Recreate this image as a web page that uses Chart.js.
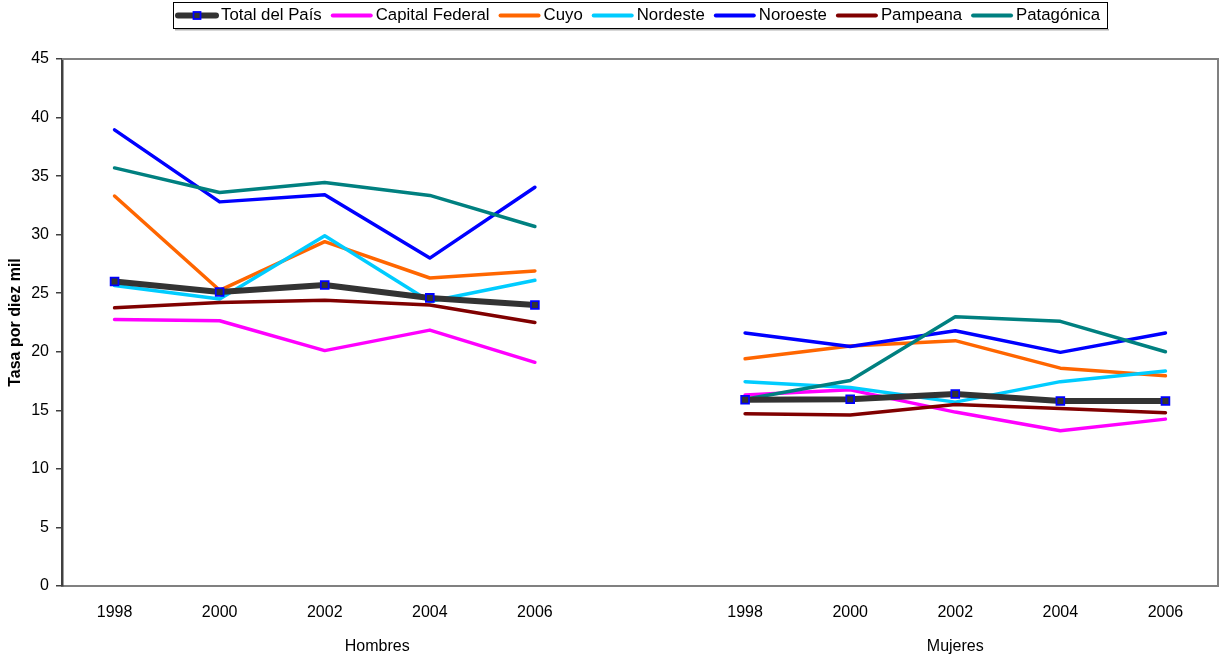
<!DOCTYPE html>
<html><head><meta charset="utf-8">
<script src="https://cdn.jsdelivr.net/npm/chart.js@4"></script>
<style>html,body{margin:0;padding:0;background:#fff}#wrap{width:1221px;height:657px}</style>
</head><body><div id="wrap"><canvas id="c" width="1221" height="657"></canvas></div>
<script>
const categories = ['1998','2000','2002','2004','2006','','1998','2000','2002','2004','2006'];
const groupLabels = ['Hombres','Mujeres'];
const groupCenters = [2.5, 8];
const seriesNames = ['Total del País','Capital Federal','Cuyo','Nordeste','Noroeste','Pampeana','Patagónica'];
const totalPais      = [26.0, 25.1, 25.7, 24.6, 24.0, null, 15.9, 15.95, 16.4, 15.8, 15.8];
const capitalFederal = [22.75, 22.65, 20.1, 21.85, 19.1, null, 16.3, 16.75, 14.85, 13.25, 14.25];
const cuyo           = [33.3, 25.25, 29.4, 26.3, 26.9, null, 19.4, 20.5, 20.95, 18.6, 17.95];
const nordeste       = [25.65, 24.5, 29.9, 24.3, 26.1, null, 17.45, 16.95, 15.7, 17.45, 18.35];
const noroeste       = [38.95, 32.8, 33.4, 28.0, 34.05, null, 21.6, 20.45, 21.8, 19.95, 21.6];
const pampeana       = [23.75, 24.2, 24.4, 24.0, 22.5, null, 14.7, 14.6, 15.5, 15.15, 14.8];
const patagonica     = [35.7, 33.6, 34.45, 33.35, 30.7, null, 15.95, 17.55, 23.0, 22.6, 20.0];
const seriesValues = [totalPais, capitalFederal, cuyo, nordeste, noroeste, pampeana, patagonica];
const seriesColors = ['#333333','#FF00FF','#FF6600','#00CCFF','#0000FF','#800000','#008080'];

const FONT = '"Liberation Sans", Arial, sans-serif';

const datasets = seriesNames.map((name, i) => ({
  label: name,
  data: seriesValues[i],
  borderColor: seriesColors[i],
  backgroundColor: seriesColors[i],
  borderWidth: i === 0 ? 6 : 3.5,
  borderCapStyle: 'round',
  borderJoinStyle: 'round',
  pointStyle: 'rect',
  pointRadius: i === 0 ? 5.5 : 0,
  pointHoverRadius: i === 0 ? 5.5 : 0,
  pointBorderColor: '#0000FF',
  pointBackgroundColor: '#333333',
  pointBorderWidth: 1.8,
  spanGaps: false,
  tension: 0,
  fill: false,
  order: i === 0 ? -1 : (seriesNames.length - i)
}));

const framePlugin = {
  id: 'frame',
  beforeDatasetsDraw(chart) {
    const {ctx, chartArea: a} = chart;
    ctx.save();
    ctx.strokeStyle = '#808080';
    ctx.lineWidth = 2;
    ctx.beginPath();
    ctx.moveTo(a.left, a.top);
    ctx.lineTo(a.right, a.top);
    ctx.lineTo(a.right, a.bottom);
    ctx.stroke();
    ctx.restore();
  }
};

const legendPlugin = {
  id: 'boxLegend',
  afterDraw(chart) {
    const ctx = chart.ctx, a = chart.chartArea;
    const ds = chart.data.datasets;
    ctx.save();
    ctx.font = '16.8px ' + FONT;
    const sample = 42, gapT = 3, gapN = 9, padL = 3, padR = 7;
    let w = padL + padR;
    ds.forEach((d, i) => { w += sample + gapT + ctx.measureText(d.label).width + (i < ds.length - 1 ? gapN : 0); });
    const cx = (a.left + a.right) / 2;
    let x = Math.round(cx - w / 2);
    const top = 2, h = 26, my = top + h / 2 + 0.5;
    ctx.fillStyle = '#b0b0b0';
    ctx.fillRect(x + 2, top + h + 1, Math.round(w), 1.5);
    ctx.strokeStyle = '#000';
    ctx.lineWidth = 1;
    ctx.strokeRect(x + 0.5, top + 0.5, Math.round(w), h);
    x += padL;
    ds.forEach(d => {
      ctx.strokeStyle = d.borderColor;
      ctx.lineWidth = d.pointRadius > 0 ? 6 : 4;
      ctx.lineCap = 'round';
      ctx.beginPath();
      ctx.moveTo(x + 2, my);
      ctx.lineTo(x + sample - 2, my);
      ctx.stroke();
      if (d.pointRadius > 0) {
        const s = 7;
        ctx.fillStyle = d.pointBackgroundColor;
        ctx.fillRect(x + sample / 2 - s / 2, my - s / 2, s, s);
        ctx.strokeStyle = d.pointBorderColor;
        ctx.lineWidth = 1.8;
        ctx.strokeRect(x + sample / 2 - s / 2, my - s / 2, s, s);
      }
      ctx.fillStyle = '#000';
      ctx.textAlign = 'left';
      ctx.textBaseline = 'middle';
      const tx = x + sample + gapT;
      ctx.fillText(d.label, tx, my);
      x = tx + ctx.measureText(d.label).width + gapN;
    });
    ctx.restore();
  }
};

new Chart(document.getElementById('c'), {
  type: 'line',
  data: { labels: categories, datasets },
  plugins: [framePlugin, legendPlugin],
  options: {
    responsive: false,
    animation: false,
    events: [],
    layout: { autoPadding: false, padding: { top: 59, right: 3, left: 0, bottom: 0 } },
    plugins: { legend: { display: false }, tooltip: { enabled: false } },
    scales: {
      x: {
        type: 'category',
        offset: true,
        position: 'bottom',
        grid: { display: true, drawOnChartArea: false, drawTicks: false, color: 'rgba(0,0,0,0)' },
        border: { display: true, color: '#808080', width: 2 },
        ticks: { color: '#000', font: { family: FONT, size: 16 }, padding: 17, autoSkip: false, maxRotation: 0 },
        afterFit(s) { s.height = 43; }
      },
      x2: {
        type: 'linear',
        position: 'bottom',
        min: -0.5,
        max: 10.5,
        grid: { display: false, drawTicks: false },
        border: { display: false },
        ticks: {
          color: '#000', font: { family: FONT, size: 16 }, padding: 8, autoSkip: false, maxRotation: 0,
          callback(v) { const i = groupCenters.indexOf(v); return i >= 0 ? groupLabels[i] : ''; }
        },
        afterBuildTicks(s) { s.ticks = groupCenters.map(v => ({ value: v })); },
        afterFit(s) { s.height = 28; }
      },
      y: {
        min: 0,
        max: 45,
        ticks: { stepSize: 5, color: '#000', font: { family: FONT, size: 16 }, padding: 7 },
        grid: { drawOnChartArea: false, drawTicks: true, tickLength: 6, color: '#404040', lineWidth: 1.5 },
        border: { color: '#404040', width: 2.5 },
        title: { display: true, text: 'Tasa por diez mil', color: '#000', font: { family: FONT, size: 16, weight: 'bold' }, padding: { top: 6, bottom: 0 } },
        afterFit(s) { s.width = 62; }
      }
    }
  }
});
</script>
</body></html>
